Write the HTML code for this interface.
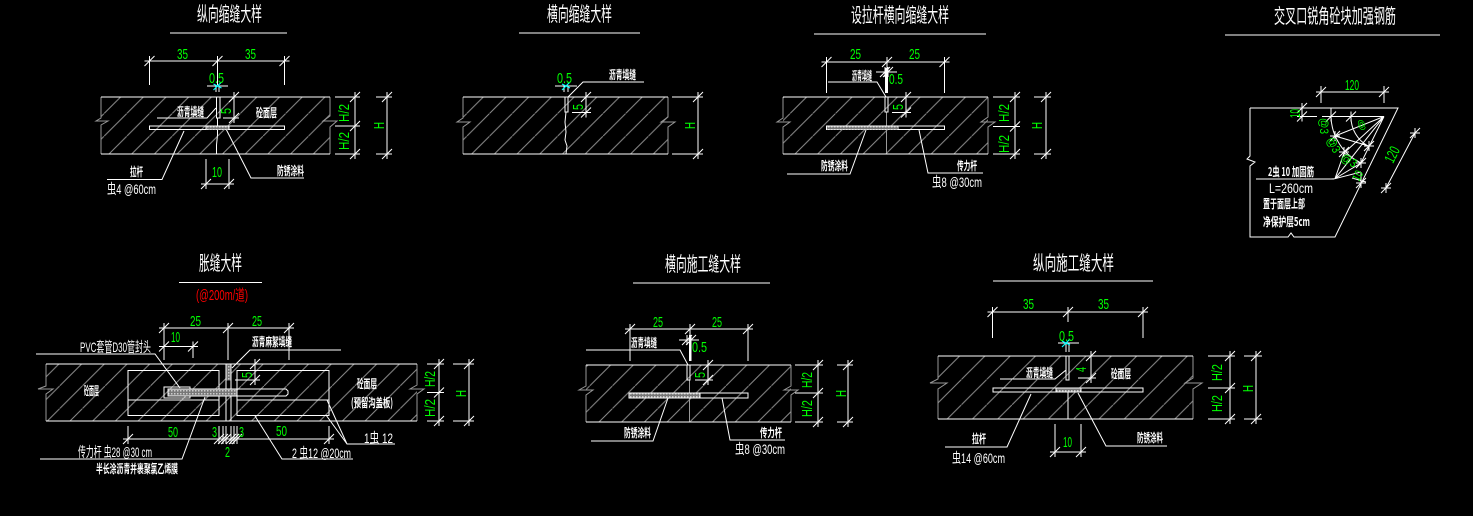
<!DOCTYPE html>
<html lang="zh">
<head>
<meta charset="utf-8">
<title>Joint details</title>
<style>
html,body{margin:0;padding:0;background:#000;width:1473px;height:516px;overflow:hidden}
svg{display:block}
.l{fill:none;stroke:#fff;stroke-width:1}
.g{fill:none;stroke:#999;stroke-width:1}
text{font-family:"Liberation Sans","WenQuanYi Zen Hei","Noto Sans CJK SC",sans-serif;fill:#fff;stroke:none}
.t{font-size:20px;font-family:"Noto Sans CJK SC","WenQuanYi Zen Hei",sans-serif}
.c{font-size:12px;font-weight:700;font-family:"WenQuanYi Zen Hei","Noto Sans CJK SC",sans-serif}
.w{font-size:14px}
.n{font-size:15px;fill:#0f0}
.r{font-size:15px;fill:#f00}
</style>
</head>
<body>
<svg width="1473" height="516" viewBox="0 0 1473 516" xmlns="http://www.w3.org/2000/svg">
<defs>
<pattern id="h1" patternUnits="userSpaceOnUse" x="13.3" width="22.7" height="22.7"><path d="M-1 23.7L23.7-1" stroke="#8c8c8c" stroke-width="1" fill="none"/></pattern>
<pattern id="h2" patternUnits="userSpaceOnUse" x="12.8" width="22.7" height="22.7"><path d="M-1 23.7L23.7-1" stroke="#8c8c8c" stroke-width="1" fill="none"/></pattern>
<pattern id="h3" patternUnits="userSpaceOnUse" x="18.3" width="22.7" height="22.7"><path d="M-1 23.7L23.7-1" stroke="#8c8c8c" stroke-width="1" fill="none"/></pattern>
<pattern id="h5" patternUnits="userSpaceOnUse" x="14.3" width="22.7" height="22.7"><path d="M-1 23.7L23.7-1" stroke="#8c8c8c" stroke-width="1" fill="none"/></pattern>
<pattern id="h6" patternUnits="userSpaceOnUse" x="22.2" width="22.7" height="22.7"><path d="M-1 23.7L23.7-1" stroke="#8c8c8c" stroke-width="1" fill="none"/></pattern>
<pattern id="h7" patternUnits="userSpaceOnUse" width="25.3" height="25.3"><path d="M-1 26.3L26.3-1" stroke="#8c8c8c" stroke-width="1" fill="none"/></pattern>
<pattern id="d" patternUnits="userSpaceOnUse" width="3" height="3">
<rect width="3" height="3" fill="#777"/><rect width="1.5" height="1.5" fill="#ccc"/>
</pattern>
<path id="k" d="M-5 5L5-5M-5 0H5M0-5V5" stroke="#fff" stroke-width="1" fill="none"/>
<path id="x" d="M-4 4L4-4M-4-2L4 2" stroke="#0ff" stroke-width="1.2" fill="none"/>
</defs>
<rect width="1473" height="516" fill="#000"/>

<!-- hatch fills -->
<rect x="101" y="97" width="229" height="57" fill="url(#h1)"/>
<rect x="463" y="97" width="205" height="57" fill="url(#h2)"/>
<rect x="783" y="97" width="205" height="57" fill="url(#h3)"/>
<rect x="46" y="364" width="371" height="57" fill="url(#h5)"/>
<rect x="586" y="365" width="205" height="57" fill="url(#h6)"/>
<rect x="938" y="356" width="255" height="63" fill="url(#h7)"/>

<!-- gray break edges -->
<path class="g" d="M101 97V118L96 121H108L101 125V154M330 97V116L323 121H337L330 127V154
M463 97V118L457 122H470L463 127V154M668 97V117L661 122H675L668 127V154
M783 97V118L777 122H790L783 127V154M988 97V117L981 122H995L988 127V154M886.5 112V154
M46 364V386L38 389H53L46 394V421M417 364V385L410 389H424L417 394V421
M586 365V386L579 390H593L586 395V422M791 365V386L784 390H798L791 395V422M689.5 380V422
M938 356V379L930 383H947L938 389V419M1193 356V378L1185 383H1202L1193 389V419"/>

<!-- white lines -->
<path class="l" d="
M170 33H287M149.500 61H284.500M149.500 61V85M284.500 61V85M217.500 61V85M207 86H228M216 86V92M219 86V92
M101 97H330M101 154H330M216.500 97V118H220V97M217.500 118V135L216.500 145V154
M149.500 126H284.500V129.500H149.500ZM206 126V129.500M229 126V129.500
M335 97H359M335 126H359M335 154H359M355 94V157M376 97H392M376 154H392M387 94V157
M234 94V120M223 118H238M206 159V188M229 159V188M201 184H234
M157 118H207L216 108M107 179.500H162L184 131M304 178H251L226 129

M519 33H640M555 86H577M564 86V92M568 86V92M463 97H668M463 154H668M565 97V112H568V97
M644 82H583L568 97M586 94V115M572 112.500H590M672 97H703M672 154H703M698 94V157
M566 112L565 122L566 132L565 140L567 146L566 154

M814 34H986M826.500 62H944.500M826.500 62V93M944.500 62V93M887 62V68M876 72H897M885 72V68
M828 82H877L886 97M783 97H988M783 154H988M885 97V112H888V97
M826.500 126H944.500V129.500H826.500ZM898 126V129.500M906 94V115M892 112.500H910
M787 174H850L866 130M983 173H928L919 130M993 97H1019M993 126.500H1019M993 154H1019M1015 94V157
M1034 97H1050M1034 154H1050M1046 94V157

M1225 35H1440M1250 108H1398L1335 237H1294L1291 233L1288 237H1250V166L1255 162L1247 159L1250 156V108
M1321 92H1384M1321 86V103M1384 86V103M1322 116.500H1384M1302 116.500H1317M1302 108V121M1331 108V118
M1256 179H1331L1335 178.700L1344 153L1384 116.500L1335 136M1384 116.500L1335 178.700L1361 172M1384 116.500L1361 163L1336 178
M1331 116.500A53 53 0 0 0 1361 163M1351 116.500A33 33 0 0 0 1368 146M1335 136L1369 146M1344 153L1361 163
M1352 178L1366 182M1361 172V183M1415 133L1386 188

M179 282.500H262M164 328H289M164 325V360M228 325V360M289 325V360M164 346.500H193M193 342V358
M36 354H155L180 388M341 350H250L232 368M46 364H417M46 421H417
M128 370.500H219V415.500H128ZM128 400H219M237 370.500H329V415.500H237ZM237 400H329
M226 364V421M231 364V421M226 380H231M164 387H190V398H164Z
M237 389H286L288 391V394L286 396H237M168 389H237V396H168Z
M128 426V443M219 426V443M226 426V443M231 426V443M237 426V443M223 426V443M234 426V443M124 439H329M329 426V443
M235 380H258M255 360V383M427 364H443M427 392.500H443M427 421H443M439 361V424M453 364H474M453 421H474M469 361V424
M40 459H182L205 397M395 444H347L327 400M353 459H282L255 416M347 444L326 415

M633 283H770M630 329H748M630 329V361M690 329V335M748 329V361M679 340H699M586 350H680L688 365
M586 365H791M586 422H791M687 365V380H690V365M629 393H748V398H629ZM700 393V398
M708 361V383M695 380H713M591 441H653L668 398M785 440H730L722 398
M795 365H822M795 393H822M795 422H822M818 362V425M837 365H853M837 422H853M848 362V425

M993 281H1153M992.500 312H1143M992.500 312V338M1143 312V338M1068 312V322M1058 343H1079M1066 343V352M1069 343V352
M938 356H1193M938 419H1193M1066 356V380H1069V356M1068 390V419M993 388H1143V392H993ZM1056 388V392M1081 388V392
M1091 352V380M1078 378H1095M1000 379H1055L1066 370M1055 424V457M1081 424V457M1050 452H1086
M945 447H1007L1031 394M1167 446H1106L1078 393M1208 356H1235M1208 388H1235M1208 419H1235M1230 353V422
M1244 356H1262M1244 419H1262M1256 353V422"/>

<!-- thick parts -->
<rect x="885" y="68" width="3" height="25" fill="#fff"/>
<rect x="689" y="335" width="2.500" height="26" fill="#fff"/>

<!-- hatched bars -->
<rect x="206.500" y="126.500" width="22" height="3" fill="url(#d)"/>
<rect x="827" y="126.500" width="71" height="3" fill="url(#d)"/>
<rect x="168.500" y="389.500" width="68" height="6" fill="url(#d)"/>
<rect x="226.500" y="364.500" width="4" height="16" fill="url(#d)"/>
<rect x="629.500" y="393.500" width="70" height="4" fill="url(#d)"/>
<rect x="1056.500" y="388.500" width="24" height="3" fill="url(#d)"/>

<!-- ticks -->
<use href="#k" x="149.500" y="61"/><use href="#k" x="217.500" y="61"/><use href="#k" x="284.500" y="61"/>
<use href="#k" x="234" y="97"/><use href="#k" x="234" y="118"/><use href="#k" x="355" y="97"/><use href="#k" x="355" y="126"/><use href="#k" x="355" y="154"/>
<use href="#k" x="387" y="97"/><use href="#k" x="387" y="154"/><use href="#k" x="206" y="184"/><use href="#k" x="229" y="184"/>
<use href="#k" x="586" y="97"/><use href="#k" x="586" y="112.500"/><use href="#k" x="698" y="97"/><use href="#k" x="698" y="154"/>
<use href="#k" x="826.500" y="62"/><use href="#k" x="887" y="62"/><use href="#k" x="944.500" y="62"/><use href="#k" x="906" y="97"/><use href="#k" x="906" y="112.500"/>
<use href="#k" x="1015" y="97"/><use href="#k" x="1015" y="126.500"/><use href="#k" x="1015" y="154"/><use href="#k" x="1046" y="97"/><use href="#k" x="1046" y="154"/>
<use href="#k" x="885" y="72"/><use href="#k" x="888" y="72"/>
<use href="#k" x="1321" y="92"/><use href="#k" x="1384" y="92"/><use href="#k" x="1302" y="108"/><use href="#k" x="1302" y="116.500"/><use href="#k" x="1331" y="116.500"/>
<use href="#k" x="1351" y="116.500"/><use href="#k" x="1335" y="136"/><use href="#k" x="1344" y="152"/><use href="#k" x="1369" y="146"/><use href="#k" x="1361" y="163"/><use href="#k" x="1361" y="183"/><use href="#k" x="1415" y="133"/><use href="#k" x="1386" y="188"/>
<use href="#k" x="164" y="328"/><use href="#k" x="228" y="328"/><use href="#k" x="289" y="328"/><use href="#k" x="164" y="346.500"/><use href="#k" x="193" y="346.500"/>
<use href="#k" x="128" y="439"/><use href="#k" x="219" y="439"/><use href="#k" x="223" y="439"/><use href="#k" x="226" y="439"/><use href="#k" x="231" y="439"/><use href="#k" x="234" y="439"/><use href="#k" x="237" y="439"/><use href="#k" x="329" y="439"/>
<use href="#k" x="255" y="364"/><use href="#k" x="255" y="380"/><use href="#k" x="439" y="364"/><use href="#k" x="439" y="392.500"/><use href="#k" x="439" y="421"/><use href="#k" x="469" y="364"/><use href="#k" x="469" y="421"/>
<use href="#k" x="630" y="329"/><use href="#k" x="690" y="329"/><use href="#k" x="748" y="329"/><use href="#k" x="708" y="365"/><use href="#k" x="708" y="380"/><use href="#k" x="687" y="340"/><use href="#k" x="691" y="340"/>
<use href="#k" x="818" y="365"/><use href="#k" x="818" y="393"/><use href="#k" x="818" y="422"/><use href="#k" x="848" y="365"/><use href="#k" x="848" y="422"/>
<use href="#k" x="992.500" y="312"/><use href="#k" x="1068" y="312"/><use href="#k" x="1143" y="312"/><use href="#k" x="1091" y="356"/><use href="#k" x="1091" y="378"/><use href="#k" x="1055" y="452"/><use href="#k" x="1081" y="452"/>
<use href="#k" x="1230" y="356"/><use href="#k" x="1230" y="388"/><use href="#k" x="1230" y="419"/><use href="#k" x="1256" y="356"/><use href="#k" x="1256" y="419"/>
<use href="#x" x="217.500" y="86"/><use href="#x" x="566" y="86"/><use href="#x" x="1066" y="343"/>

<!-- titles -->
<text class="t" x="197" y="21" textLength="65" lengthAdjust="spacingAndGlyphs">纵向缩缝大样</text>
<text class="t" x="547" y="21" textLength="65" lengthAdjust="spacingAndGlyphs">横向缩缝大样</text>
<text class="t" x="851" y="22" textLength="98" lengthAdjust="spacingAndGlyphs">设拉杆横向缩缝大样</text>
<text class="t" x="1274" y="23" textLength="122" lengthAdjust="spacingAndGlyphs">交叉口锐角砼块加强钢筋</text>
<text class="t" x="199" y="270" textLength="43" lengthAdjust="spacingAndGlyphs">胀缝大样</text>
<text class="t" x="665" y="271" textLength="76" lengthAdjust="spacingAndGlyphs">横向施工缝大样</text>
<text class="t" x="1033" y="270" textLength="81" lengthAdjust="spacingAndGlyphs">纵向施工缝大样</text>
<text class="r" x="196" y="300" textLength="52" lengthAdjust="spacingAndGlyphs" style="font-family:'Liberation Sans','Noto Sans CJK SC',sans-serif">(@200m/道)</text>

<!-- white labels -->
<text class="c" x="177" y="116" textLength="27" lengthAdjust="spacingAndGlyphs">沥青填缝</text>
<text class="c" x="256" y="117" textLength="21" lengthAdjust="spacingAndGlyphs">砼面层</text>
<text class="c" x="130" y="176" textLength="13" lengthAdjust="spacingAndGlyphs">拉杆</text>
<text class="w" x="107" y="194" textLength="49" lengthAdjust="spacingAndGlyphs">虫4 @60cm</text>
<text class="c" x="277" y="175" textLength="27" lengthAdjust="spacingAndGlyphs">防锈涂料</text>
<text class="c" x="609" y="79" textLength="27" lengthAdjust="spacingAndGlyphs">沥青填缝</text>
<text class="c" x="852" y="80" textLength="20" lengthAdjust="spacingAndGlyphs">沥青填缝</text>
<text class="c" x="821" y="170" textLength="27" lengthAdjust="spacingAndGlyphs">防锈涂料</text>
<text class="c" x="957" y="170" textLength="20" lengthAdjust="spacingAndGlyphs">传力杆</text>
<text class="w" x="932" y="187" textLength="50" lengthAdjust="spacingAndGlyphs">虫8 @30cm</text>
<text class="c" x="1268" y="176" textLength="46" lengthAdjust="spacingAndGlyphs">2虫 10 加固筋</text>
<text class="w" x="1269" y="193" textLength="44" lengthAdjust="spacingAndGlyphs">L=260cm</text>
<text class="c" x="1263" y="208" textLength="42" lengthAdjust="spacingAndGlyphs">置于面层上部</text>
<text class="c" x="1263" y="226" textLength="47" lengthAdjust="spacingAndGlyphs">净保护层5cm</text>
<text class="w" x="80" y="352" textLength="71" lengthAdjust="spacingAndGlyphs">PVC套管D30管封头</text>
<text class="c" x="252" y="346" textLength="40" lengthAdjust="spacingAndGlyphs">沥青麻絮填缝</text>
<text class="c" x="84" y="395" textLength="15" lengthAdjust="spacingAndGlyphs">砼面层</text>
<text class="c" x="357" y="388" textLength="20" lengthAdjust="spacingAndGlyphs">砼面层</text>
<text class="c" x="351" y="407" textLength="42" lengthAdjust="spacingAndGlyphs">(预留沟盖板)</text>
<text class="w" x="78" y="457" textLength="74" lengthAdjust="spacingAndGlyphs">传力杆 虫28 @30 cm</text>
<text class="c" x="96" y="473" textLength="82" lengthAdjust="spacingAndGlyphs">半长涂沥青并裹聚氯乙烯膜</text>
<text class="w" x="364" y="443" textLength="29" lengthAdjust="spacingAndGlyphs">1虫 12</text>
<text class="w" x="292" y="458" textLength="59" lengthAdjust="spacingAndGlyphs">2 虫12 @20cm</text>
<text class="c" x="631" y="347" textLength="26" lengthAdjust="spacingAndGlyphs">沥青填缝</text>
<text class="c" x="624" y="437" textLength="27" lengthAdjust="spacingAndGlyphs">防锈涂料</text>
<text class="c" x="760" y="437" textLength="22" lengthAdjust="spacingAndGlyphs">传力杆</text>
<text class="w" x="735" y="454" textLength="50" lengthAdjust="spacingAndGlyphs">虫8 @30cm</text>
<text class="c" x="1026" y="377" textLength="27" lengthAdjust="spacingAndGlyphs">沥青填缝</text>
<text class="c" x="1111" y="378" textLength="20" lengthAdjust="spacingAndGlyphs">砼面层</text>
<text class="c" x="972" y="443" textLength="14" lengthAdjust="spacingAndGlyphs">拉杆</text>
<text class="w" x="952" y="463" textLength="53" lengthAdjust="spacingAndGlyphs">虫14 @60cm</text>
<text class="c" x="1137" y="442" textLength="26" lengthAdjust="spacingAndGlyphs">防锈涂料</text>

<!-- green numbers: horizontal -->
<text class="n" x="177" y="59" textLength="11" lengthAdjust="spacingAndGlyphs">35</text>
<text class="n" x="245" y="59" textLength="11" lengthAdjust="spacingAndGlyphs">35</text>
<text class="n" x="209" y="83" textLength="15" lengthAdjust="spacingAndGlyphs">0.5</text>
<text class="n" x="212" y="177" textLength="10" lengthAdjust="spacingAndGlyphs">10</text>
<text class="n" x="557" y="83" textLength="15" lengthAdjust="spacingAndGlyphs">0.5</text>
<text class="n" x="850" y="59" textLength="11" lengthAdjust="spacingAndGlyphs">25</text>
<text class="n" x="909" y="59" textLength="11" lengthAdjust="spacingAndGlyphs">25</text>
<text class="n" x="889" y="84" textLength="14" lengthAdjust="spacingAndGlyphs">0.5</text>
<text class="n" x="1345" y="90" textLength="14" lengthAdjust="spacingAndGlyphs">120</text>
<text class="n" x="190" y="326" textLength="11" lengthAdjust="spacingAndGlyphs">25</text>
<text class="n" x="252" y="326" textLength="10" lengthAdjust="spacingAndGlyphs">25</text>
<text class="n" x="171" y="342" textLength="9" lengthAdjust="spacingAndGlyphs">10</text>
<text class="n" x="168" y="437" textLength="10" lengthAdjust="spacingAndGlyphs">50</text>
<text class="n" x="276" y="436" textLength="11" lengthAdjust="spacingAndGlyphs">50</text>
<text class="n" x="212" y="437" textLength="5" lengthAdjust="spacingAndGlyphs">3</text>
<text class="n" x="239" y="437" textLength="5" lengthAdjust="spacingAndGlyphs">3</text>
<text class="n" x="225" y="457" textLength="5" lengthAdjust="spacingAndGlyphs">2</text>
<text class="n" x="653" y="327" textLength="10" lengthAdjust="spacingAndGlyphs">25</text>
<text class="n" x="712" y="327" textLength="10" lengthAdjust="spacingAndGlyphs">25</text>
<text class="n" x="692" y="352" textLength="15" lengthAdjust="spacingAndGlyphs">0.5</text>
<text class="n" x="1023" y="309" textLength="11" lengthAdjust="spacingAndGlyphs">35</text>
<text class="n" x="1098" y="309" textLength="11" lengthAdjust="spacingAndGlyphs">35</text>
<text class="n" x="1059" y="341" textLength="15" lengthAdjust="spacingAndGlyphs">0.5</text>
<text class="n" x="1063" y="447" textLength="9" lengthAdjust="spacingAndGlyphs">10</text>

<!-- green numbers: rotated -->
<text class="n" transform="translate(349,122) rotate(-90)" textLength="18" lengthAdjust="spacingAndGlyphs">H/2</text>
<text class="n" transform="translate(349,150) rotate(-90)" textLength="18" lengthAdjust="spacingAndGlyphs">H/2</text>
<text class="n" transform="translate(384,129) rotate(-90)" textLength="7" lengthAdjust="spacingAndGlyphs">H</text>
<text class="n" transform="translate(231,114) rotate(-90)" textLength="6" lengthAdjust="spacingAndGlyphs">5</text>
<text class="n" transform="translate(583,110) rotate(-90)" textLength="6" lengthAdjust="spacingAndGlyphs">5</text>
<text class="n" transform="translate(695,129) rotate(-90)" textLength="7" lengthAdjust="spacingAndGlyphs">H</text>
<text class="n" transform="translate(903,110) rotate(-90)" textLength="6" lengthAdjust="spacingAndGlyphs">5</text>
<text class="n" transform="translate(1009,122) rotate(-90)" textLength="18" lengthAdjust="spacingAndGlyphs">H/2</text>
<text class="n" transform="translate(1009,153) rotate(-90)" textLength="18" lengthAdjust="spacingAndGlyphs">H/2</text>
<text class="n" transform="translate(1042,129) rotate(-90)" textLength="7" lengthAdjust="spacingAndGlyphs">H</text>
<text class="n" transform="translate(1300,118) rotate(-90)" textLength="9" lengthAdjust="spacingAndGlyphs">10</text>
<text class="n" style="font-size:12px" transform="translate(1320,118) rotate(90)" textLength="16" lengthAdjust="spacingAndGlyphs">@3</text>
<text class="n" style="font-size:12px" transform="translate(1326,140) rotate(60)" textLength="16" lengthAdjust="spacingAndGlyphs">@3</text>
<text class="n" style="font-size:12px" transform="translate(1340,160) rotate(30)" textLength="16" lengthAdjust="spacingAndGlyphs">@3</text>
<text class="n" style="font-size:12px" transform="translate(1360,130) rotate(-30)" textLength="8" lengthAdjust="spacingAndGlyphs">@</text>
<text class="n" style="font-size:12px" transform="translate(1359,182) rotate(-63)" textLength="10" lengthAdjust="spacingAndGlyphs">10</text>
<text class="n" transform="translate(1393,164) rotate(-63)" textLength="16" lengthAdjust="spacingAndGlyphs">120</text>
<text class="n" transform="translate(252,378) rotate(-90)" textLength="6" lengthAdjust="spacingAndGlyphs">5</text>
<text class="n" transform="translate(435,387) rotate(-90)" textLength="16" lengthAdjust="spacingAndGlyphs">H/2</text>
<text class="n" transform="translate(435,417) rotate(-90)" textLength="18" lengthAdjust="spacingAndGlyphs">H/2</text>
<text class="n" transform="translate(466,397) rotate(-90)" textLength="7" lengthAdjust="spacingAndGlyphs">H</text>
<text class="n" transform="translate(705,378) rotate(-90)" textLength="6" lengthAdjust="spacingAndGlyphs">5</text>
<text class="n" transform="translate(812,388) rotate(-90)" textLength="16" lengthAdjust="spacingAndGlyphs">H/2</text>
<text class="n" transform="translate(812,417) rotate(-90)" textLength="17" lengthAdjust="spacingAndGlyphs">H/2</text>
<text class="n" transform="translate(846,397) rotate(-90)" textLength="7" lengthAdjust="spacingAndGlyphs">H</text>
<text class="n" transform="translate(1086,372) rotate(-90)" textLength="5" lengthAdjust="spacingAndGlyphs">4</text>
<text class="n" transform="translate(1222,381) rotate(-90)" textLength="17" lengthAdjust="spacingAndGlyphs">H/2</text>
<text class="n" transform="translate(1222,412) rotate(-90)" textLength="17" lengthAdjust="spacingAndGlyphs">H/2</text>
<text class="n" transform="translate(1253,392) rotate(-90)" textLength="7" lengthAdjust="spacingAndGlyphs">H</text>
</svg>
</body>
</html>
